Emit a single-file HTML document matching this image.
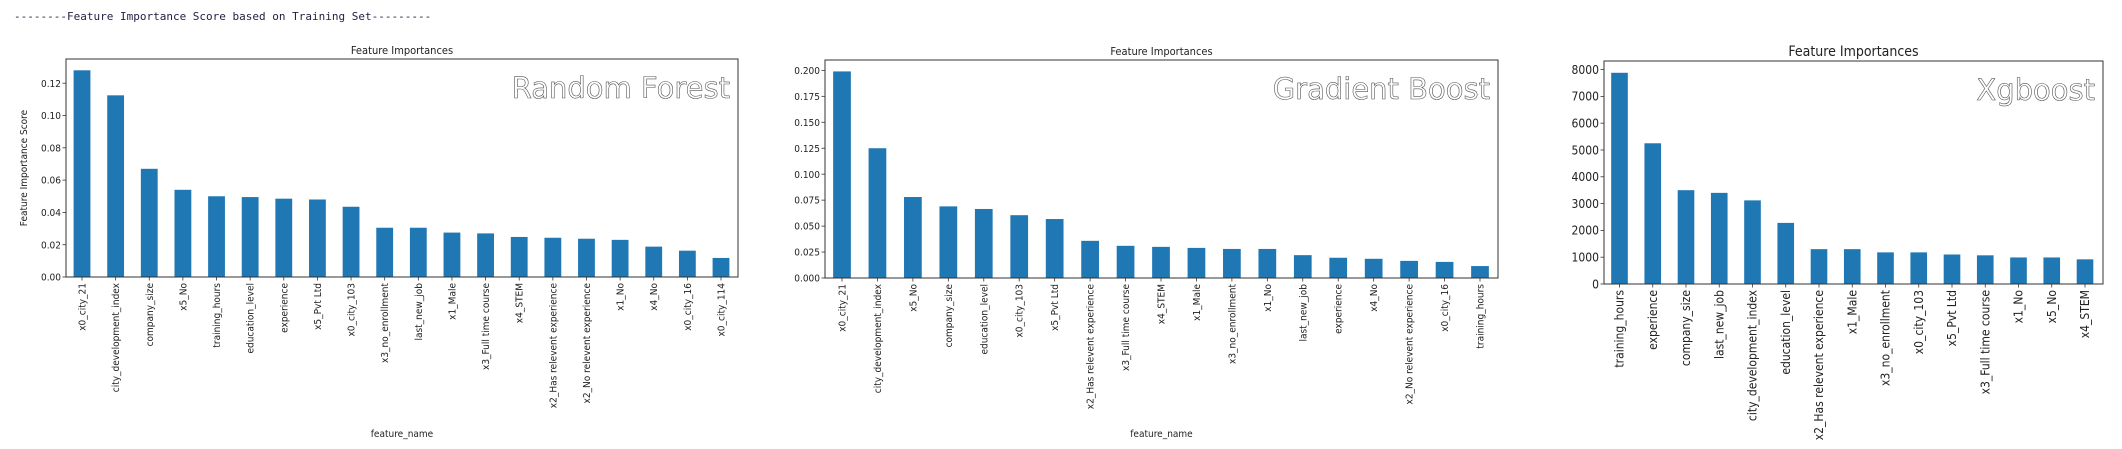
<!DOCTYPE html>
<html><head><meta charset="utf-8"><style>
html,body{margin:0;padding:0;background:#fff;}
svg{display:block;}
text{font-family:"DejaVu Sans Condensed","DejaVu Sans","Liberation Sans",sans-serif;fill:#222;}
</style></head><body>
<svg id="chart" width="2122" height="449" viewBox="0 0 2122 449" xmlns="http://www.w3.org/2000/svg">
<text x="14" y="20" font-size="11" style="font-family:'DejaVu Sans Mono','Liberation Mono',monospace;fill:#224">--------Feature Importance Score based on Training Set---------</text>
</svg>
<script>
const rfCategories=["x0_city_21","city_development_index","company_size","x5_No","training_hours","education_level","experience","x5_Pvt Ltd","x0_city_103","x3_no_enrollment","last_new_job","x1_Male","x3_Full time course","x4_STEM","x2_Has relevent experience","x2_No relevent experience","x1_No","x4_No","x0_city_16","x0_city_114"];
const rfValues=[0.128,0.1125,0.067,0.054,0.050,0.0495,0.0485,0.048,0.0435,0.0305,0.0305,0.0275,0.027,0.0248,0.0243,0.0237,0.023,0.0188,0.0163,0.0118];
const rfTicks=["0.00","0.02","0.04","0.06","0.08","0.10","0.12"];
const gbCategories=["x0_city_21","city_development_index","x5_No","company_size","education_level","x0_city_103","x5_Pvt Ltd","x2_Has relevent experience","x3_Full time course","x4_STEM","x1_Male","x3_no_enrollment","x1_No","last_new_job","experience","x4_No","x2_No relevent experience","x0_city_16","training_hours"];
const gbValues=[0.199,0.125,0.078,0.069,0.0665,0.0605,0.0568,0.0358,0.031,0.030,0.029,0.028,0.028,0.022,0.0195,0.0185,0.0165,0.0155,0.0115];
const gbTicks=["0.000","0.025","0.050","0.075","0.100","0.125","0.150","0.175","0.200"];
const xgCategories=["training_hours","experience","company_size","last_new_job","city_development_index","education_level","x2_Has relevent experience","x1_Male","x3_no_enrollment","x0_city_103","x5_Pvt Ltd","x3_Full time course","x1_No","x5_No","x4_STEM"];
const xgValues=[7880,5250,3500,3400,3120,2280,1300,1300,1180,1180,1100,1070,990,990,920];
const xgTicks=["0","1000","2000","3000","4000","5000","6000","7000","8000"];

const NS="http://www.w3.org/2000/svg";
const svg=document.getElementById('chart');
function mk(tag,attrs,parent,txt){const e=document.createElementNS(NS,tag);for(const k in attrs)e.setAttribute(k,attrs[k]);if(txt!==undefined)e.textContent=txt;(parent||svg).appendChild(e);return e;}

function drawChart(o){
  const g=mk('g',{});
  
  
  const yScale=v=>o.bottom-(v/o.ymax)*(o.bottom-o.top);
  const n=o.cats.length;
  const step=(o.lastC-o.firstC)/(n-1);
  const xScale=i=>o.firstC+i*step;
  const bw=step*0.5;
  o.vals.forEach((v,i)=>{
    const r=mk('rect',{x:xScale(i)-bw/2,y:yScale(v),width:bw,height:o.bottom-yScale(v),fill:'#1f77b4'},g);
    
    
    mk('line',{x1:xScale(i),x2:xScale(i),y1:o.bottom,y2:o.bottom+3.5,stroke:'#333','stroke-width':0.8},g);
    const t=mk('text',{x:0,y:0,'font-size':o.fs,'text-anchor':'end',transform:`translate(${xScale(i)+o.fs*0.35},${o.bottom+6}) rotate(-90)`},g,o.cats[i]);
    
    
  });
  o.ticks.forEach(tl=>{
    const v=parseFloat(tl);const y=yScale(v);
    mk('line',{x1:o.left-3.5,x2:o.left,y1:y,y2:y,stroke:'#333','stroke-width':0.8},g);
    const t=mk('text',{x:o.left-5,y:y+o.fs*0.36,'font-size':o.fs,'text-anchor':'end'},g,tl);
    
    
  });
  const fr=mk('rect',{x:o.left,y:o.top,width:o.right-o.left,height:o.bottom-o.top,fill:'none',stroke:'#333','stroke-width':1},g);
  
  
  const ti=mk('text',{x:(o.left+o.right)/2,y:o.top-5,'font-size':o.tfs,'text-anchor':'middle'},g,'Feature Importances');
  
  
  const wm=mk('text',{x:o.right-8,y:o.top+39,'font-size':29,'text-anchor':'end',style:'fill:#fff;stroke:#555;stroke-width:0.6;font-family:"DejaVu Sans","Liberation Sans",sans-serif'},g,o.model);
  
  
  if(o.xlabel){
    const xl=mk('text',{x:(o.left+o.right)/2,y:437,'font-size':10,'text-anchor':'middle'},g,'feature_name');
    
    
  }
  if(o.ylabel){
    const yl=mk('text',{x:0,y:0,'font-size':10,'text-anchor':'middle',transform:`translate(27,${(o.top+o.bottom)/2}) rotate(-90)`},g,'Feature Importance Score');
    
    
  }
}
drawChart({name:'random-forest',model:'Random Forest',cats:rfCategories,vals:rfValues,ticks:rfTicks,left:66,right:738,top:59,bottom:277,ymax:0.135,firstC:82,lastC:721,fs:10,tfs:11,xlabel:true,ylabel:true});
drawChart({name:'gradient-boost',model:'Gradient Boost',cats:gbCategories,vals:gbValues,ticks:gbTicks,left:825,right:1498,top:60,bottom:278,ymax:0.210,firstC:842,lastC:1480,fs:10,tfs:11,xlabel:true,ylabel:false});
drawChart({name:'xgboost',model:'Xgboost',cats:xgCategories,vals:xgValues,ticks:xgTicks,left:1604,right:2103,top:61,bottom:284,ymax:8320,firstC:1619.5,lastC:2085,fs:12,tfs:14,xlabel:false,ylabel:false});
</script>
</body></html>
